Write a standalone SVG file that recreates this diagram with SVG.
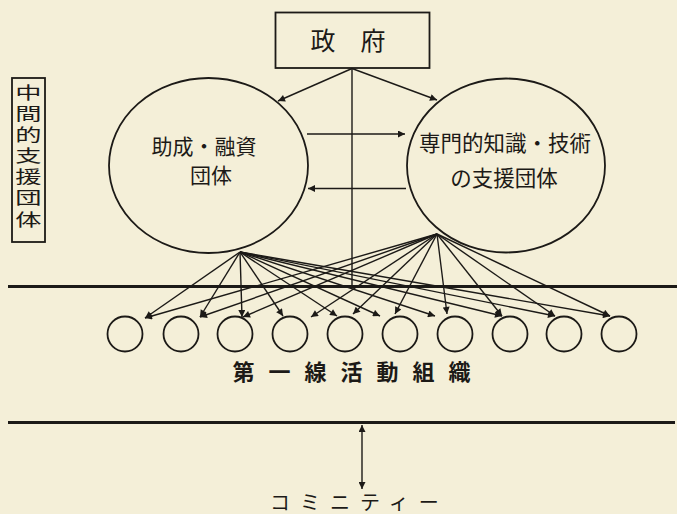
<svg xmlns="http://www.w3.org/2000/svg" width="677" height="514" viewBox="0 0 677 514">
<defs>
<style>
.bg{fill:#f4efd8}
.ln{stroke:#1c1a17;fill:none;stroke-width:1.4}
.sh{stroke:#1c1a17;fill:none;stroke-width:1.8}
.hv{stroke:#1c1a17;fill:none;stroke-width:2.8}
.ar{stroke:#1c1a17;fill:none;stroke-width:1.4;marker-end:url(#ah)}
.t{font-family:"Noto Sans CJK JP","Noto Sans CJK SC",sans-serif;fill:#1c1a17;text-anchor:middle}
</style>
<marker id="ah" viewBox="0 0 10 10" refX="10" refY="5" markerWidth="9" markerHeight="7" markerUnits="userSpaceOnUse" orient="auto-start-reverse">
<path d="M0,0 L10,5 L0,10 z" fill="#1c1a17"/>
</marker>
</defs>
<rect class="bg" x="0" y="0" width="677" height="514"/>

<g id="government">
<rect class="sh" x="275.5" y="12.5" width="154" height="55.5"/>
<text class="t" x="348" y="50" font-size="25">政　府</text>
</g>

<g id="grant-finance">
<ellipse class="sh" cx="208.5" cy="165.5" rx="99.5" ry="87.5"/>
<text class="t" x="204" y="154" font-size="21">助成・融資</text>
<text class="t" x="211" y="183" font-size="21">団体</text>
</g>

<g id="expert-support">
<ellipse class="sh" cx="506" cy="165.5" rx="99" ry="87"/>
<text class="t" x="505" y="151" font-size="21.5">専門的知識・技術</text>
<text class="t" x="504" y="186" font-size="21.5">の支援団体</text>
</g>

<g id="intermediate-label">
<rect class="sh" x="12" y="78" width="33" height="164"/>
<g transform="translate(28.5,0) scale(1.5,1)">
<text class="t" x="0" y="99" font-size="17.5">中</text>
<text class="t" x="0" y="120" font-size="17.5">間</text>
<text class="t" x="0" y="141" font-size="17.5">的</text>
<text class="t" x="0" y="162" font-size="17.5">支</text>
<text class="t" x="0" y="183" font-size="17.5">援</text>
<text class="t" x="0" y="204.5" font-size="17.5">団</text>
<text class="t" x="0" y="226.5" font-size="17.5">体</text>
</g>
</g>

<g id="frontline-orgs">
<g id="org1"><circle class="sh" cx="125" cy="334" r="17.5"/></g>
<g id="org2"><circle class="sh" cx="181" cy="334" r="17.5"/></g>
<g id="org3"><circle class="sh" cx="235" cy="334" r="17.5"/></g>
<g id="org4"><circle class="sh" cx="290" cy="334" r="17.5"/></g>
<g id="org5"><circle class="sh" cx="345" cy="334" r="17.5"/></g>
<g id="org6"><circle class="sh" cx="400" cy="334" r="17.5"/></g>
<g id="org7"><circle class="sh" cx="455" cy="334" r="17.5"/></g>
<g id="org8"><circle class="sh" cx="510" cy="334" r="17.5"/></g>
<g id="org9"><circle class="sh" cx="564" cy="334" r="17.5"/></g>
<g id="org10"><circle class="sh" cx="619" cy="334" r="17.5"/></g>
<text class="t" x="232.5" y="380" font-size="22" font-weight="bold" letter-spacing="14" style="text-anchor:start">第一線活動組織</text>
</g>

<g id="community">
<text class="t" x="270" y="510" font-size="20" letter-spacing="10" style="text-anchor:start">コミニティー</text>
</g>

<g id="dividers">
<line class="hv" x1="8" y1="286.5" x2="677" y2="286.5"/>
<line class="hv" x1="8" y1="422.5" x2="675" y2="422.5"/>
</g>

<g id="connectors">
<line class="ar" x1="352" y1="68.5" x2="278" y2="101"/>
<line class="ar" x1="352" y1="68.5" x2="437" y2="100"/>
<line class="ln" x1="352" y1="68" x2="352" y2="287"/>
<line class="ar" x1="307" y1="134" x2="405" y2="134"/>
<line class="ar" x1="406" y1="188.5" x2="308" y2="188.5"/>
<line class="ar" x1="362" y1="425" x2="362" y2="489" style="marker-start:url(#ah)"/>

<g id="fan-left">
<line class="ar" x1="240" y1="252" x2="145" y2="318"/>
<line class="ar" x1="240" y1="252" x2="200" y2="317"/>
<line class="ar" x1="240" y1="252" x2="242" y2="317"/>
<line class="ar" x1="240" y1="252" x2="283" y2="316"/>
<line class="ar" x1="240" y1="252" x2="337" y2="316"/>
<line class="ar" x1="240" y1="252" x2="380" y2="316"/>
<line class="ar" x1="240" y1="252" x2="435" y2="316"/>
<line class="ar" x1="240" y1="252" x2="502" y2="316"/>
<line class="ar" x1="240" y1="252" x2="555" y2="316"/>
<line class="ar" x1="240" y1="252" x2="610" y2="316"/>
</g>
<g id="fan-right">
<line class="ar" x1="437" y1="234" x2="145" y2="318"/>
<line class="ar" x1="437" y1="234" x2="200" y2="317"/>
<line class="ar" x1="437" y1="234" x2="243" y2="317"/>
<line class="ar" x1="437" y1="234" x2="311" y2="317"/>
<line class="ar" x1="437" y1="234" x2="353" y2="314"/>
<line class="ar" x1="437" y1="234" x2="395" y2="314"/>
<line class="ar" x1="437" y1="234" x2="447" y2="314"/>
<line class="ar" x1="437" y1="234" x2="502" y2="316"/>
<line class="ar" x1="437" y1="234" x2="555" y2="316"/>
<line class="ar" x1="437" y1="234" x2="610" y2="316"/>
</g>
</g>
</svg>
